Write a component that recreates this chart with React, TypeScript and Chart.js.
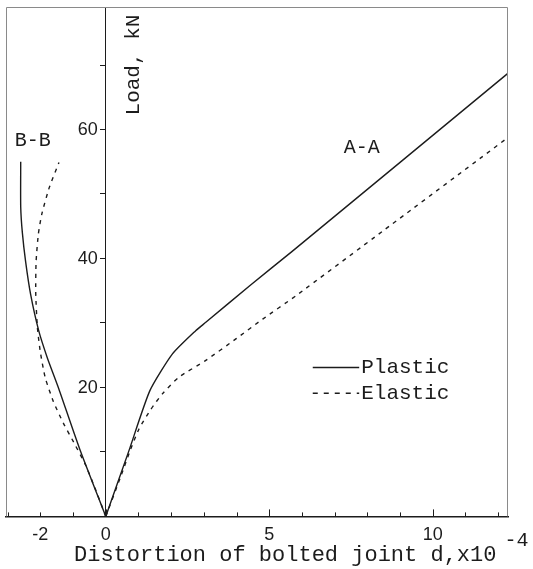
import React, { useEffect, useRef } from 'react';
import { Chart, registerables } from 'chart.js';

Chart.register(...registerables);

// Axis tick labels shown
const xTickLabels = [-2, 0, 5, 10];
const yTickLabels = [20, 40, 60];

// Series: section A-A
const plasticAAx = [0, 0.71, 1.35, 2.04, 2.75, 3.06, 4.43, 5.7, 12.39];
const plasticAAy = [0, 10.2, 19.5, 25.2, 28.8, 30.1, 35.9, 41.1, 69.1];
const elasticAAx = [0, 0.46, 0.76, 1.02, 1.38, 1.73, 2.24, 3.06, 4.0, 4.8, 5.81, 8.51, 12.39];
const elasticAAy = [0, 6.2, 10.4, 13.6, 16.6, 19.0, 21.6, 24.2, 27.6, 30.6, 34.2, 44.4, 59.1];

// Series: section B-B
const plasticBBx = [0, -0.8, -1.45, -1.78, -2.05, -2.3, -2.45, -2.55, -2.6, -2.6];
const plasticBBy = [0, 10.5, 20, 24.5, 28.8, 34.5, 39.5, 44, 48, 55];
const elasticBBx = [0, -0.3, -0.62, -0.98, -1.3, -1.6, -1.85, -2.0, -2.09, -2.14, -2.13, -2.06, -1.95, -1.72, -1.43];
const elasticBBy = [0, 4, 8, 11.5, 14.5, 17.8, 21.5, 25.5, 29.3, 34.5, 39.5, 43.8, 47, 51.1, 54.9];

const seriesNames = ['Plastic', 'Elastic'];

const toPoints = (xs: number[], ys: number[]) => xs.map((x, i) => ({ x, y: ys[i] }));

const INK = '#1c1c1c';
const MONO = '"Liberation Mono", "DejaVu Sans Mono", monospace';
const SANS = '"Liberation Sans", Arial, sans-serif';

const noScalePadding = (scale: any) => {
  scale.paddingTop = 0;
  scale.paddingBottom = 0;
  scale.paddingLeft = 0;
  scale.paddingRight = 0;
};

export default function App() {
  const ref = useRef<HTMLCanvasElement | null>(null);

  useEffect(() => {
    const canvas = ref.current;
    if (!canvas) return;

    const decor = {
      id: 'decor',
      beforeDraw(chart: any) {
        const { ctx } = chart;
        ctx.save();
        ctx.fillStyle = '#ffffff';
        ctx.fillRect(0, 0, chart.width, chart.height);
        ctx.restore();
      },
      afterDraw(chart: any) {
        const { ctx, chartArea: a } = chart;
        const xs = chart.scales.x;
        const ys = chart.scales.y;
        ctx.save();
        // frame (left, top, right)
        ctx.strokeStyle = '#8a8a8a';
        ctx.lineWidth = 1;
        ctx.beginPath();
        ctx.moveTo(Math.round(a.left) + 0.5, a.bottom);
        ctx.lineTo(Math.round(a.left) + 0.5, Math.round(a.top) + 0.5);
        ctx.lineTo(Math.round(a.right) - 0.5, Math.round(a.top) + 0.5);
        ctx.lineTo(Math.round(a.right) - 0.5, a.bottom);
        ctx.stroke();

        // inward x ticks
        ctx.strokeStyle = INK;
        ctx.lineWidth = 1;
        for (let v = Math.ceil(xs.min); v <= xs.max; v++) {
          const px = Math.round(xs.getPixelForValue(v)) + 0.5;
          const len = v % 5 === 0 ? 7 : 4;
          ctx.beginPath();
          ctx.moveTo(px, a.bottom);
          ctx.lineTo(px, a.bottom - len);
          ctx.stroke();
        }

        ctx.fillStyle = INK;
        ctx.textBaseline = 'middle';

        // y tick labels, left of the axis line at x = 0
        const axisX = xs.getPixelForValue(0);
        ctx.font = `18px ${SANS}`;
        ctx.textAlign = 'right';
        ys.ticks.forEach((t: any) => {
          if (yTickLabels.includes(t.value)) {
            ctx.fillText(String(t.value), axisX - 8, ys.getPixelForValue(t.value) + 1);
          }
        });

        // section labels
        ctx.font = `20px ${MONO}`;
        ctx.textAlign = 'center';
        ctx.fillText('A-A', xs.getPixelForValue(7.83), ys.getPixelForValue(57.2));
        ctx.fillText('B-B', xs.getPixelForValue(-2.23), ys.getPixelForValue(58.3));

        // y title (rotated, right of the axis line)
        ctx.save();
        ctx.font = `21px ${MONO}`;
        ctx.translate(xs.getPixelForValue(0.85), ys.getPixelForValue(70));
        ctx.rotate(-Math.PI / 2);
        ctx.textAlign = 'center';
        ctx.fillText('Load, kN', 0, 0);
        ctx.restore();

        // legend
        const lx0 = xs.getPixelForValue(6.33);
        const lx1 = xs.getPixelForValue(7.75);
        const rows = [ys.getPixelForValue(23.1), ys.getPixelForValue(19.1)];
        ctx.font = `21px ${MONO}`;
        ctx.textAlign = 'left';
        rows.forEach((ry, i) => {
          ctx.beginPath();
          ctx.lineWidth = 1.4;
          ctx.setLineDash(i === 0 ? [] : [5, 6]);
          ctx.moveTo(lx0, ry);
          ctx.lineTo(lx1, ry);
          ctx.stroke();
          ctx.setLineDash([]);
          ctx.fillText(seriesNames[i], lx1 + 2, ry);
        });

        // x title with superscript
        ctx.font = `22px ${MONO}`;
        ctx.textAlign = 'left';
        ctx.textBaseline = 'alphabetic';
        const title = 'Distortion of bolted joint d,x10';
        const tx = 74;
        ctx.fillText(title, tx, 561);
        const tw = ctx.measureText(title).width;
        ctx.font = `20px ${MONO}`;
        ctx.fillText('-4', tx + tw + 8, 546);
        ctx.restore();
      },
    };

    const lineStyle = (dashed: boolean) => ({
      borderColor: INK,
      backgroundColor: INK,
      borderWidth: 1.4,
      borderDash: dashed ? [4, 5] : [],
      pointRadius: 0,
      fill: false,
      tension: 0.2,
    });

    const chart = new Chart(canvas, {
      type: 'line',
      data: {
        datasets: [
          { label: 'Plastic A-A', data: toPoints(plasticAAx, plasticAAy), ...lineStyle(false) },
          { label: 'Elastic A-A', data: toPoints(elasticAAx, elasticAAy), ...lineStyle(true) },
          { label: 'Plastic B-B', data: toPoints(plasticBBx, plasticBBy), ...lineStyle(false) },
          { label: 'Elastic B-B', data: toPoints(elasticBBx, elasticBBy), ...lineStyle(true) },
        ],
      },
      options: {
        responsive: false,
        animation: false,
        layout: { padding: { left: 6, top: 7, right: 25, bottom: 15 } },
        plugins: { legend: { display: false }, tooltip: { enabled: false } },
        scales: {
          x: {
            type: 'linear',
            position: 'bottom',
            min: -3.05,
            max: 12.3,
            afterFit: noScalePadding,
            ticks: {
              stepSize: 1,
              autoSkip: false,
              maxRotation: 0,
              padding: 8,
              color: INK,
              font: { family: SANS, size: 18 },
              callback: (v: any) => (xTickLabels.includes(Number(v)) ? String(v) : ''),
            },
            grid: { display: false, drawTicks: false },
            border: { display: true, color: INK, width: 1.5 },
          },
          y: {
            type: 'linear',
            position: { x: 0 } as any,
            min: 0,
            max: 79,
            afterFit: noScalePadding,
            ticks: {
              display: false,
              stepSize: 10,
              autoSkip: false,
            },
            grid: { drawOnChartArea: false, drawTicks: true, tickLength: 5, color: INK },
            border: { display: true, color: INK, width: 1 },
          },
        },
      },
      plugins: [decor],
    } as any);

    return () => chart.destroy();
  }, []);

  return (
    <div style={{ position: 'absolute', left: 0, top: 0, width: 533, height: 569, background: '#fff' }}>
      <canvas ref={ref} width={533} height={569} style={{ display: 'block' }} />
    </div>
  );
}
